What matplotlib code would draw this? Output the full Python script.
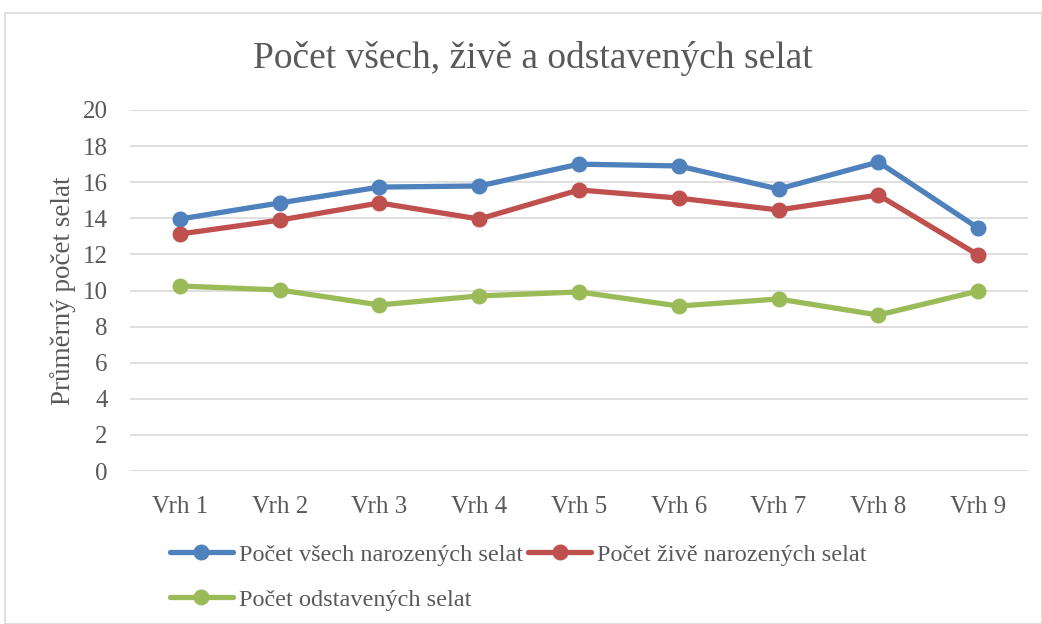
import matplotlib
matplotlib.use("Agg")
import matplotlib.pyplot as plt
from matplotlib.patches import Rectangle

categories = ["Vrh 1", "Vrh 2", "Vrh 3", "Vrh 4", "Vrh 5", "Vrh 6", "Vrh 7", "Vrh 8", "Vrh 9"]
vsech = [13.96, 14.85, 15.73, 15.79, 17.0, 16.9, 15.62, 17.12, 13.46]
zive = [13.13, 13.9, 14.85, 13.96, 15.57, 15.12, 14.46, 15.29, 11.97]
odstavenych = [10.25, 10.03, 9.2, 9.7, 9.92, 9.14, 9.53, 8.64, 9.97]
series_names = ["Počet všech narozených selat", "Počet živě narozených selat", "Počet odstavených selat"]
colors = ["#4F81BD", "#C0504D", "#9BBB59"]
yticks = [0, 2, 4, 6, 8, 10, 12, 14, 16, 18, 20]

plt.rcParams['font.family'] = ['Liberation Serif', 'DejaVu Serif']
text_color = "#595959"

W, H = 1042, 624
fig = plt.figure(figsize=(W / 100, H / 100), dpi=100)
fig.patches.append(Rectangle((5 / W, 0), (W - 5) / W, (H - 13) / H, transform=fig.transFigure,
                             fill=False, edgecolor="#D9D9D9", linewidth=1.2))

ax = fig.add_axes([130 / W, 1 - 471 / H, (1028 - 130) / W, (471 - 110) / H])
x = list(range(len(categories)))
handles = []
for vals, name, c in zip([vsech, zive, odstavenych], series_names, colors):
    h, = ax.plot(x, vals, color=c, linewidth=3.8, marker='o', markersize=10.5,
                 label=name, solid_capstyle='round', zorder=3)
    handles.append(h)

ax.set_xlim(-0.5, len(categories) - 0.5)
ax.set_ylim(0, 20)
ax.set_yticks(yticks)
ax.set_yticklabels([str(v) for v in yticks])
ax.set_xticks(x)
ax.set_xticklabels(categories)
ax.grid(axis='y', color="#D9D9D9", linewidth=1.2)
ax.set_axisbelow(True)
for s in ax.spines.values():
    s.set_visible(False)
ax.tick_params(axis='both', length=0, labelsize=18, colors=text_color)
ax.tick_params(axis='y', pad=16)
ax.tick_params(axis='x', pad=18)
ax.set_ylabel("Průměrný počet selat", fontsize=19.5, color=text_color, labelpad=5)

fig.text(533 / W, 1 - 59 / H, "Počet všech, živě a odstavených selat", ha='center', va='center',
         fontsize=27, color=text_color)

leg = fig.legend([handles[0], handles[2], handles[1]],
                 [series_names[0], series_names[2], series_names[1]],
                 ncol=2, loc='upper left', bbox_to_anchor=(160 / W, 1 - 534 / H),
                 frameon=False, fontsize=17.5, labelcolor=text_color,
                 handlelength=2.6, handletextpad=0.25, columnspacing=0.2, labelspacing=0.95,
                 borderaxespad=0)

fig.savefig("out.png", dpi=100)
